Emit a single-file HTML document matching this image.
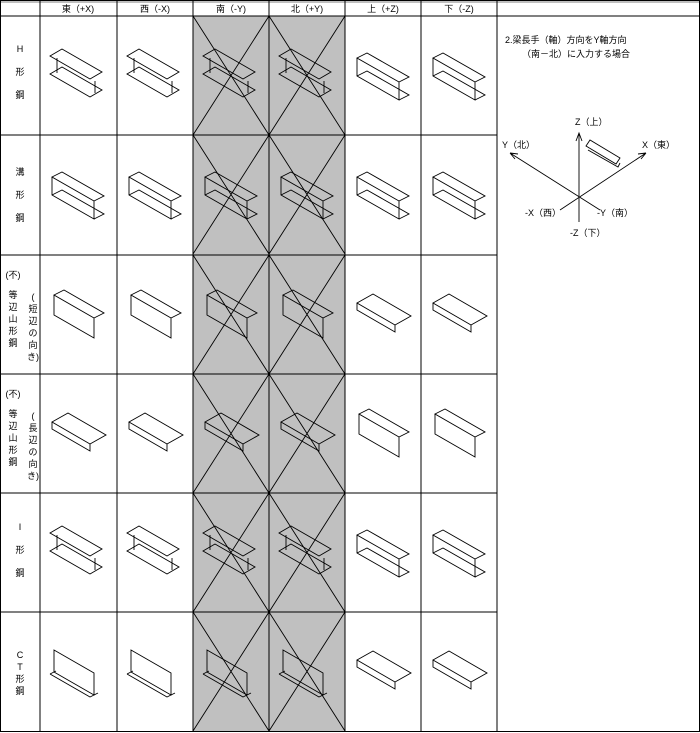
<!DOCTYPE html>
<html><head><meta charset="utf-8"><style>
body{margin:0;background:#fff}
svg{display:block}
text{font-family:"Liberation Sans","Noto Sans CJK JP",sans-serif;font-size:9px;fill:#000}
</style></head><body>
<svg width="700" height="733" viewBox="0 0 700 733" xmlns="http://www.w3.org/2000/svg">
<defs>
<g id="H" fill="none" stroke="#000" stroke-width="0.9">
<path d="M10,58 L22,51 L62,74 L50,81 Z"/>
<path d="M17,42 V57 M55,65 V77" />
<path d="M10,40 L22,33 L62,56 L50,63 Z"/>
</g>
<g id="C" fill="none" stroke="#000" stroke-width="0.9">
<path d="M12,42 L22,37 L64,61 L54,66 Z M12,42 V60 L54,84 V66 M12,60 L22,55 L64,79 L54,84"/>
</g>
<g id="L" fill="none" stroke="#000" stroke-width="0.9">
<path d="M14,40 L24,35 L64,58 L54,63 Z M14,40 V60 L54,83 V63"/>
</g>
<g id="L2" fill="none" stroke="#000" stroke-width="0.9">
<path d="M12,48 L28,39 L66,61 L50,70 Z M12,48 V55 L50,77 V70"/>
</g>
<g id="T" fill="none" stroke="#000" stroke-width="0.9">
<path d="M14,38 V60 L54,83 V61 Z M10,62 L16,59 M10,62 L50,85 L58,81"/>
</g>
<g id="X"><path d="M0,0 L76,119 M76,0 L0,119" stroke="#000" stroke-width="0.9"/></g>
</defs>
<rect x="193" y="16" width="152" height="715" fill="#c0c0c0"/>
<g stroke="#000" stroke-width="1" fill="none">
<rect x="0.5" y="0.5" width="699" height="731"/>
<path d="M40,0V731 M117,0V731 M193,0V731 M269,0V731 M345,0V731 M421,0V731 M497,0V731"/>
<path d="M0,16H700 M0,135H497 M0,255H497 M0,374H497 M0,493H497 M0,612H497"/>
<path d="M0,2H700" stroke-width="0.6"/>
</g>
<g text-anchor="middle">
<text x="78" y="12">東（+X)</text><text x="155" y="12">西（-X)</text><text x="231" y="12">南（-Y)</text><text x="307" y="12">北（+Y)</text><text x="383" y="12">上（+Z)</text><text x="459" y="12">下（-Z)</text>
<text x="20" y="52">H</text><text x="20" y="75">形</text><text x="20" y="98">鋼</text>
<text x="20" y="175">溝</text><text x="20" y="198">形</text><text x="20" y="221">鋼</text>
<text x="13" y="278">(不)</text><text x="13" y="298">等</text><text x="13" y="310">辺</text><text x="13" y="322">山</text><text x="13" y="334">形</text><text x="13" y="346">鋼</text>
<text x="33" y="300">(</text><text x="33" y="312">短</text><text x="33" y="324">辺</text><text x="33" y="336">の</text><text x="33" y="348">向</text><text x="33" y="360">き)</text>
<text x="13" y="397">(不)</text><text x="13" y="417">等</text><text x="13" y="429">辺</text><text x="13" y="441">山</text><text x="13" y="453">形</text><text x="13" y="465">鋼</text>
<text x="33" y="419">(</text><text x="33" y="431">長</text><text x="33" y="443">辺</text><text x="33" y="455">の</text><text x="33" y="467">向</text><text x="33" y="479">き)</text>
<text x="20" y="530">I</text><text x="20" y="553">形</text><text x="20" y="576">鋼</text>
<text x="20" y="658">C</text><text x="20" y="670">T</text><text x="20" y="682">形</text><text x="20" y="694">鋼</text>
</g>
<use href="#H" x="40" y="16"/><use href="#H" x="117" y="16"/><use href="#H" x="193" y="16"/><use href="#H" x="269" y="16"/>
<use href="#C" x="345" y="16"/><use href="#C" x="421" y="16"/>
<use href="#C" x="40" y="135"/><use href="#C" x="117" y="135"/><use href="#C" x="193" y="135"/><use href="#C" x="269" y="135"/><use href="#C" x="345" y="135"/><use href="#C" x="421" y="135"/>
<use href="#L" x="40" y="255"/><use href="#L" x="117" y="255"/><use href="#L" x="193" y="255"/><use href="#L" x="269" y="255"/><use href="#L2" x="345" y="255"/><use href="#L2" x="421" y="255"/>
<use href="#L2" x="40" y="374"/><use href="#L2" x="117" y="374"/><use href="#L2" x="193" y="374"/><use href="#L2" x="269" y="374"/><use href="#L" x="345" y="374"/><use href="#L" x="421" y="374"/>
<use href="#H" x="40" y="493"/><use href="#H" x="117" y="493"/><use href="#H" x="193" y="493"/><use href="#H" x="269" y="493"/><use href="#C" x="345" y="493"/><use href="#C" x="421" y="493"/>
<use href="#T" x="40" y="612"/><use href="#T" x="117" y="612"/><use href="#T" x="193" y="612"/><use href="#T" x="269" y="612"/><use href="#L2" x="345" y="612"/><use href="#L2" x="421" y="612"/>
<use href="#X" x="193" y="16"/><use href="#X" x="269" y="16"/><use href="#X" x="193" y="135"/><use href="#X" x="269" y="135"/>
<use href="#X" x="193" y="255"/><use href="#X" x="269" y="255"/><use href="#X" x="193" y="374"/><use href="#X" x="269" y="374"/>
<use href="#X" x="193" y="493"/><use href="#X" x="269" y="493"/><use href="#X" x="193" y="612"/><use href="#X" x="269" y="612"/>
<text x="505" y="43">2.梁長手（軸）方向をY軸方向</text>
<text x="522" y="57">（南－北）に入力する場合</text>
<g stroke="#000" stroke-width="0.9" fill="none">
<path d="M579,222 V133 M576,141 L579,133 L582,141"/>
<path d="M510,153 L600,210 M510,153 L518,154 M510,153 L515,159"/>
<path d="M646,153 L560,210 M646,153 L638,154 M646,153 L641,159"/>
<path d="M586,146 L590,140 L620,158 L616,164 Z M588,150 L618,167 L620,163"/>
</g>
<text x="575" y="125">Z（上）</text>
<text x="502" y="148">Y（北）</text>
<text x="642" y="148">X（東）</text>
<text x="525" y="216">-X（西）</text>
<text x="597" y="216">-Y（南）</text>
<text x="570" y="236">-Z（下）</text>
</svg>
</body></html>
